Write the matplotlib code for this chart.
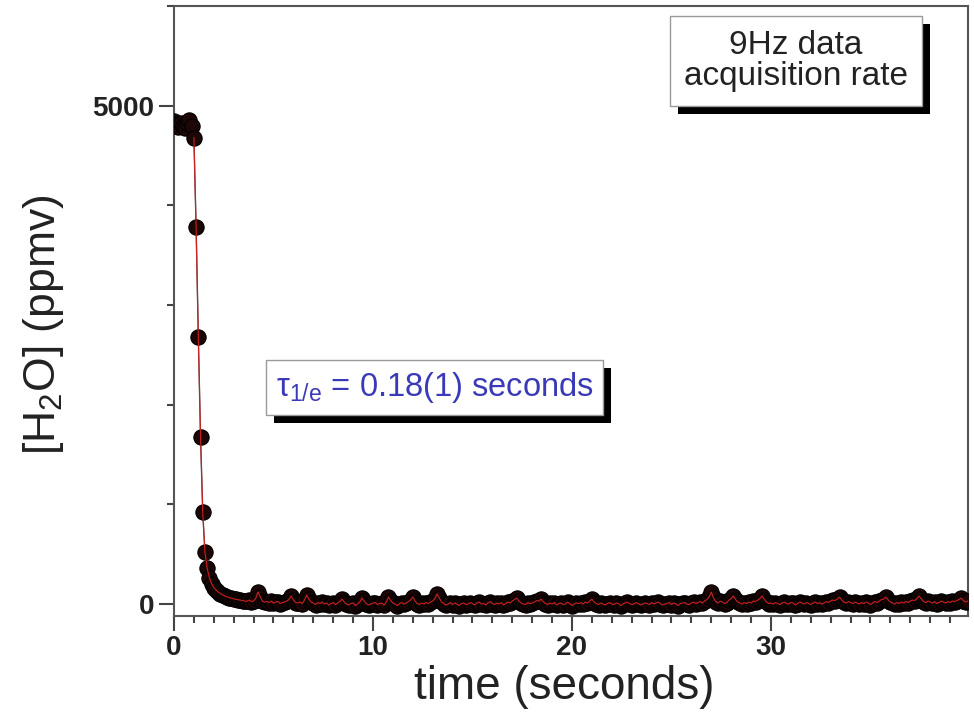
import numpy as np
import matplotlib
matplotlib.use('Agg')
import matplotlib.pyplot as plt
import matplotlib.patheffects as pe
from matplotlib.ticker import MultipleLocator

plt.rcParams['font.family'] = ['Liberation Sans', 'DejaVu Sans']
plt.rcParams['mathtext.fontset'] = 'custom'
plt.rcParams['mathtext.rm'] = 'Liberation Sans'
plt.rcParams['mathtext.it'] = 'Liberation Sans:italic'
plt.rcParams['mathtext.bf'] = 'Liberation Sans:bold'

# [H2O] readings (ppmv), 9 Hz sampling
plateau_ppmv = [4850, 4820, 4790, 4830, 4800, 4780, 4830, 4860, 4800]
step_ppmv = [4680, 3780, 2680, 1680, 920, 520, 360, 265, 205, 165, 140,
             120, 105, 92, 80, 72, 65, 58, 52, 48, 44, 40]
baseline_ppmv = [
    35, 30, 28, 40, 25, 30, 60, 120, 70, 30, 20, 25, 15, 30, 10, 20, 25, 5, 15, 20,
    30, 45, 80, 40, 15, 10, 20, 5, 40, 90, 50, 20, 10, -5, 15, 5, 20, 0, 10, -10,
    5, 15, -5, 10, 25, 50, 20, 0, -10, 5, 10, -15, 0, 20, 60, 30, 5, -10, 0, 10,
    15, -5, 5, 10, -10, 20, 70, 35, 10, 0, -15, 5, 15, 0, 10, 25, 40, 70, 30, 5,
    -5, 10, 0, 15, 5, 20, 30, 55, 100, 60, 20, 5, -10, 0, 15, -5, 10, 0, -15, 5,
    10, -5, 0, 15, 5, -10, 10, 20, 0, 5, -10, 10, 25, 5, -5, 10, 0, 15, -10, 5,
    20, 10, 30, 45, 60, 30, 10, 0, -5, 15, 5, 10, 20, 35, 30, 50, 25, 5, -5, 10,
    0, 15, -10, 5, 10, -5, 0, 20, 5, -15, 0, 10, 5, 15, 0, 20, 10, 30, 50, 20,
    5, -5, 10, 0, -10, 5, 15, 0, -5, 10, 5, -15, 0, 10, 20, 5, -5, 0, 15, 5,
    -10, 0, 10, 5, -5, 15, 0, 10, 20, 5, -10, 0, 5, 15, -5, 10, 0, -15, 5, 10,
    15, 0, -5, 10, 20, 5, 15, 25, 10, 30, 45, 70, 120, 60, 25, 10, 30, 20, 5, 15,
    40, 55, 80, 45, 20, 10, 0, 15, 5, 20, 10, 30, 25, 40, 55, 80, 45, 20, 5, 10,
    0, 15, 5, -5, 10, 20, 5, 0, 15, 10, -10, 5, 20, 10, 0, 15, 5, -5, 10, 20,
    5, 15, 0, 10, 25, 15, 30, 40, 35, 50, 70, 40, 20, 10, 25, 15, 5, 20, 10, 0,
    15, 5, 20, 10, -5, 10, 25, 15, 30, 45, 50, 70, 40, 20, 10, 0, 15, 5, 20, 10,
    25, 15, 30, 40, 35, 55, 80, 50, 25, 15, 30, 20, 10, 25, 5, 15, 30, 20, 10, 25,
    15, 30, 25, 35, 45, 60, 35, 20, 30,
]
rate_hz = 9

ppmv = np.array(plateau_ppmv + step_ppmv + baseline_ppmv, dtype=float)
t = np.arange(len(ppmv)) / rate_hz
n0 = len(plateau_ppmv)

fig = plt.figure(figsize=(9.74, 7.22), dpi=100)
ax = fig.add_axes([174 / 974, 1 - 616 / 722, 794 / 974, 610 / 722])

ax.plot(t, ppmv, color='#555555', lw=1, zorder=2)
ax.plot(t, ppmv, 'o', ms=11, mfc='#1c0606', mec='black', mew=0.8, zorder=3)
ax.plot(t[n0:], ppmv[n0:], color='#cc2020', lw=0.8, zorder=4)

ax.set_xlim(0, 39.9)
ax.set_ylim(-120, 6000)
ax.xaxis.set_major_locator(MultipleLocator(10))
ax.xaxis.set_minor_locator(MultipleLocator(1))
ax.yaxis.set_major_locator(MultipleLocator(5000))
ax.yaxis.set_minor_locator(MultipleLocator(1000))
ax.tick_params(which='major', length=11, width=1.5, color='#444444',
               labelsize=20, labelcolor='#222222', pad=3)
ax.tick_params(which='minor', length=5, width=1.5, color='#444444')
for lab in ax.get_xticklabels() + ax.get_yticklabels():
    lab.set_fontweight('bold')
for s in ax.spines.values():
    s.set_linewidth(1.5)
    s.set_color('#555555')

ax.set_xlabel('time (seconds)', fontsize=33, color='#222222')
ax.set_ylabel('[H$_2$O] (ppmv)', fontsize=32, color='#222222')
ax.xaxis.set_label_coords(0.491, -0.08)
ax.yaxis.set_label_coords(-0.136, 0.477)

shadow = [pe.SimplePatchShadow(offset=(6, -6), shadow_rgbFace='black', alpha=1),
          pe.Normal()]

t1 = ax.text(0.783, 0.91, '9Hz data\nacquisition rate', transform=ax.transAxes,
             ha='center', va='center', fontsize=24, color='#222222',
             linespacing=1.0,
             bbox=dict(boxstyle='square,pad=0.42', fc='white', ec='#999999', lw=1))
t1.get_bbox_patch().set_path_effects(shadow)

t2 = ax.text(0.328, 0.375, 'τ$_{\\mathrm{1/e}}$ = 0.18(1) seconds',
             transform=ax.transAxes, ha='center', va='center', fontsize=23.5,
             color='#3a3ab8',
             bbox=dict(boxstyle='square,pad=0.3', fc='white', ec='#999999', lw=1))
t2.get_bbox_patch().set_path_effects(shadow)

fig.savefig('out.png', dpi=100)
